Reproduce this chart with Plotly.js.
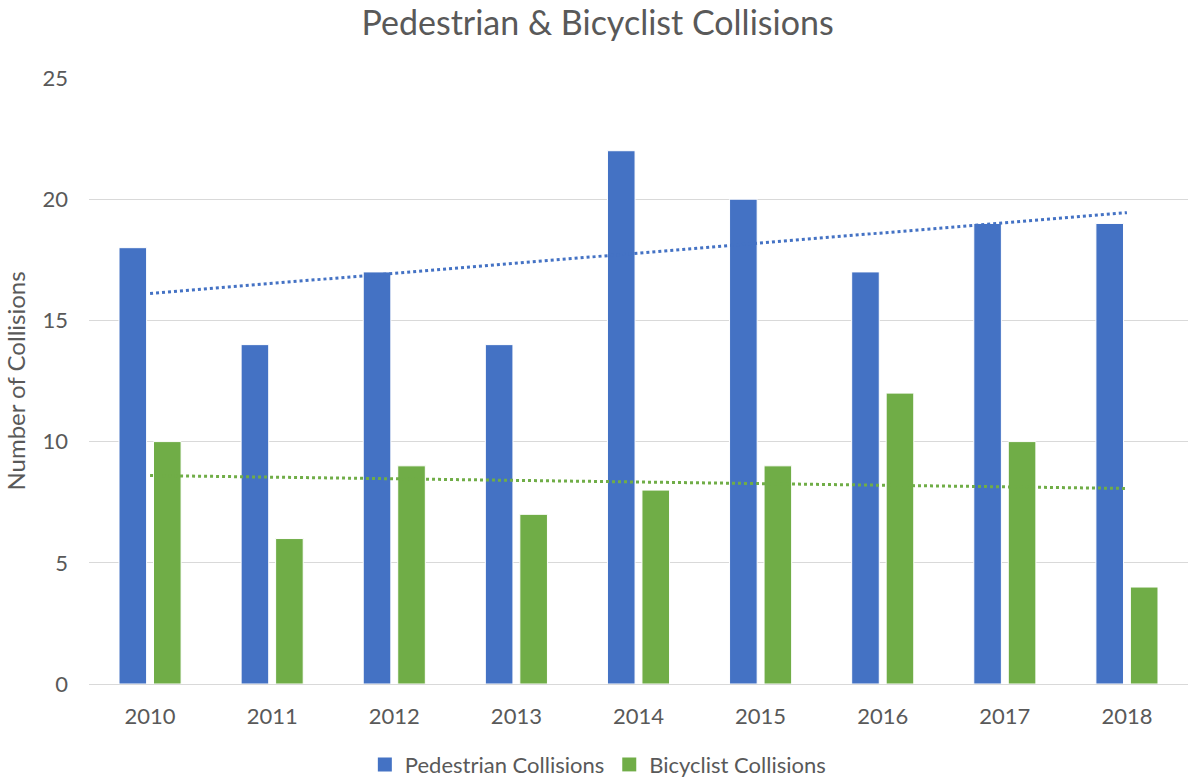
<!DOCTYPE html>
<html>
<head>
<meta charset="utf-8">
<script src="https://cdn.plot.ly/plotly-3.0.1.min.js"></script>
<style>html,body{margin:0;padding:0;background:#fff;}#chart{width:1188px;height:778px;}</style>
</head>
<body>
<div id="chart"></div>
<script>
const years = ['2010','2011','2012','2013','2014','2015','2016','2017','2018'];
const pedestrian = [18, 14, 17, 14, 22, 20, 17, 19, 19];
const bicyclist = [10, 6, 9, 7, 8, 9, 12, 10, 4];
const seriesNames = ['Pedestrian Collisions', 'Bicyclist Collisions'];

const BLUE = '#4472C4';
const GREEN = '#70AD47';
const TXT = '#595959';
const FONT = 'Lato, "Open Sans", sans-serif';

// Linear trendline (least squares) computed from the series
function trend(vals) {
  const n = vals.length;
  const xs = vals.map((_, i) => i);
  const mx = xs.reduce((a, b) => a + b, 0) / n;
  const my = vals.reduce((a, b) => a + b, 0) / n;
  let num = 0, den = 0;
  xs.forEach((x, i) => { num += (x - mx) * (vals[i] - my); den += (x - mx) * (x - mx); });
  const slope = num / den, icpt = my - slope * mx;
  return xs.map(x => icpt + slope * x);
}

const traces = [
  {type: 'bar', name: seriesNames[0], x: years, y: pedestrian, showlegend: false,
   marker: {color: BLUE, line: {color: '#ffffff', width: 1}}},
  {type: 'bar', name: seriesNames[1], x: years, y: bicyclist, showlegend: false,
   marker: {color: GREEN, line: {color: '#ffffff', width: 1}}},
  {type: 'scatter', mode: 'lines', x: years, y: trend(pedestrian), showlegend: false,
   hoverinfo: 'skip', line: {color: BLUE, width: 3, dash: 'dot'}},
  {type: 'scatter', mode: 'lines', x: years, y: trend(bicyclist), showlegend: false,
   hoverinfo: 'skip', line: {color: GREEN, width: 3, dash: 'dot'}},
  // legend keys (square swatches)
  {type: 'scatter', mode: 'markers', name: seriesNames[0], x: [null], y: [null],
   marker: {symbol: 'square', size: 14, color: BLUE}},
  {type: 'scatter', mode: 'markers', name: seriesNames[1], x: [null], y: [null],
   marker: {symbol: 'square', size: 14, color: GREEN}}
];

const layout = {
  width: 1188, height: 778,
  margin: {l: 89, r: 0, t: 78, b: 94, autoexpand: false},
  paper_bgcolor: '#ffffff', plot_bgcolor: '#ffffff',
  font: {family: FONT, color: TXT, size: 22},
  title: {text: 'Pedestrian & Bicyclist Collisions', font: {family: FONT, size: 34, color: TXT},
          x: 0.503, xanchor: 'center', y: 0.97, yanchor: 'middle'},
  barmode: 'group',
  bargap: 0.435,
  bargroupgap: 0.2,
  xaxis: {type: 'category', showgrid: false, zeroline: false, showline: true, automargin: false,
          linecolor: '#d9d9d9', linewidth: 1, ticks: '', ticklabelstandoff: 13,
          tickfont: {family: FONT, size: 22, color: TXT}},
  yaxis: {range: [0, 25], dtick: 5, showgrid: true, gridcolor: '#d9d9d9', gridwidth: 1, automargin: false,
          zeroline: true, zerolinecolor: '#d9d9d9', zerolinewidth: 1, showline: false, ticks: '',
          ticklabelstandoff: 20, tickfont: {family: FONT, size: 22, color: TXT},
          title: {text: 'Number of Collisions', font: {family: FONT, size: 24, color: TXT}, standoff: 10}},
  legend: {orientation: 'h', x: 0.463, xanchor: 'center', y: -0.133, yanchor: 'middle',
           font: {family: FONT, size: 22, color: TXT}, itemwidth: 30, traceorder: 'normal'},
  showlegend: true
};

Plotly.newPlot('chart', traces, layout, {displayModeBar: false, staticPlot: true});
</script>
</body>
</html>
